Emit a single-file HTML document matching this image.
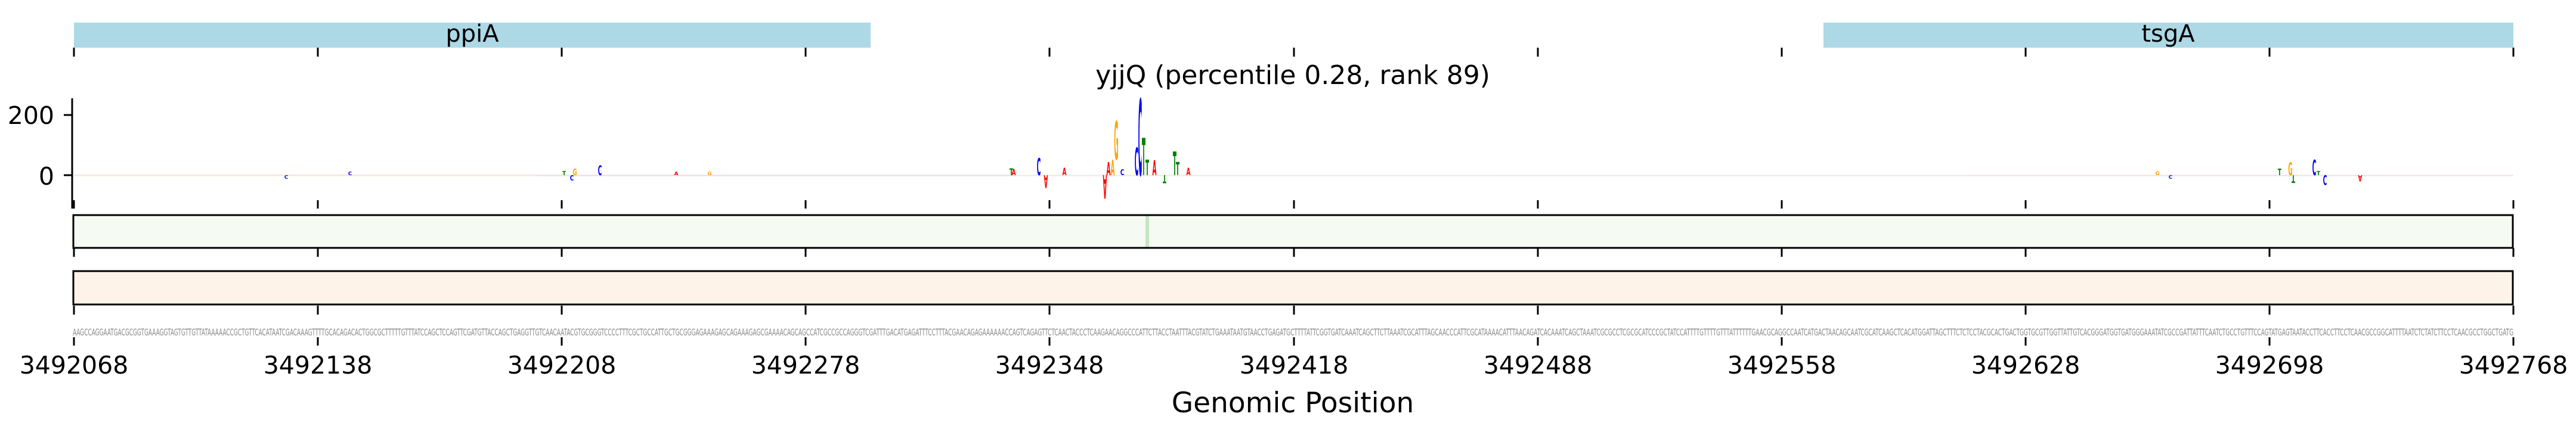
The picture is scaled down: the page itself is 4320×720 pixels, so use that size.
<!DOCTYPE html>
<html><head><meta charset="utf-8"><style>
html,body{margin:0;padding:0;background:#fff;}
svg{display:block;}
text{font-family:"DejaVu Sans","Liberation Sans",sans-serif;}
</style></head><body>
<svg width="4320" height="720" viewBox="0 0 4320 720" xmlns="http://www.w3.org/2000/svg">
<rect x="124" y="38" width="1336" height="42" fill="#add8e6"/>
<rect x="3058" y="38" width="1157" height="42" fill="#add8e6"/>
<text x="792" y="70" font-size="40" text-anchor="middle">ppiA</text>
<text x="3636" y="70" font-size="40" text-anchor="middle">tsgA</text>
<g stroke="#000" stroke-width="3">
<path d="M124 80v15M533 80v15M942 80v15M1351 80v15M1760 80v15M2170 80v15M2579 80v15M2988 80v15M3397 80v15M3806 80v15M4215 80v15"/>
<path d="M124 336v14M533 336v14M942 336v14M1351 336v14M1760 336v14M2170 336v14M2579 336v14M2988 336v14M3397 336v14M3806 336v14M4215 336v14"/>
<path d="M124 416v15M533 416v15M942 416v15M1351 416v15M1760 416v15M2170 416v15M2579 416v15M2988 416v15M3397 416v15M3806 416v15M4215 416v15"/>
<path d="M124 513v15M533 513v15M942 513v15M1351 513v15M1760 513v15M2170 513v15M2579 513v15M2988 513v15M3397 513v15M3806 513v15M4215 513v15"/>
<path d="M124 566v14M533 566v14M942 566v14M1351 566v14M1760 566v14M2170 566v14M2579 566v14M2988 566v14M3397 566v14M3806 566v14M4215 566v14"/>
<path d="M121 165V350M107 193h14M107 294h14"/>
</g>
<text x="91" y="208" font-size="41" text-anchor="end">200</text>
<text x="91" y="310" font-size="41" text-anchor="end">0</text>
<text x="2168" y="141" font-size="44" text-anchor="middle">yjjQ (percentile 0.28, rank 89)</text>
<g stroke-width="1.5" opacity="0.25">
<line x1="124" y1="294" x2="900" y2="294" stroke="#f4a"/>
<line x1="124" y1="295" x2="900" y2="295" stroke="#fb4"/>
<line x1="900" y1="294" x2="1700" y2="294" stroke="#e77"/>
<line x1="900" y1="295" x2="1700" y2="295" stroke="#88f"/>
<line x1="1700" y1="294" x2="2500" y2="294" stroke="#8c8"/>
<line x1="1700" y1="295" x2="2500" y2="295" stroke="#f99"/>
<line x1="2500" y1="294" x2="3300" y2="294" stroke="#fb6"/>
<line x1="2500" y1="295" x2="3300" y2="295" stroke="#99f"/>
<line x1="3300" y1="294" x2="4215" y2="294" stroke="#f88"/>
<line x1="3300" y1="295" x2="4215" y2="295" stroke="#8af"/>
</g>
<g font-size="10" text-anchor="middle" font-weight="bold" style="font-family:'Liberation Sans',sans-serif">
<text transform="translate(1912,294) scale(0.9,17.6)" fill="#0000ff">C</text>
<text transform="translate(1906,294) scale(0.9,6.4)" fill="#0000ff">C</text>
<text transform="translate(1872,268) scale(0.9,8.8)" fill="#ffa500">G</text>
<text transform="translate(1866,294) scale(0.9,3.6)" fill="#ffa500">A</text>
<text transform="translate(1859,294) scale(0.9,3.0)" fill="#ff0000">A</text>
<text transform="translate(1853,294) scale(0.9,-5.4)" fill="#ff0000">A</text>
<text transform="translate(1918,294) scale(0.9,8.6)" fill="#008000">T</text>
<text transform="translate(1924,294) scale(0.9,3.6)" fill="#008000">T</text>
<text transform="translate(1936,294) scale(0.9,3.5)" fill="#ff0000">A</text>
<text transform="translate(1970,294) scale(0.9,5.4)" fill="#008000">T</text>
<text transform="translate(1975,294) scale(0.9,3.0)" fill="#008000">T</text>
<text transform="translate(1953,294) scale(0.9,-1.9)" fill="#008000">T</text>
<text transform="translate(1993,294) scale(0.9,1.7)" fill="#ff0000">A</text>
<text transform="translate(1742,294) scale(0.9,3.9)" fill="#0000ff">C</text>
<text transform="translate(1754,294) scale(0.9,-2.9)" fill="#ff0000">A</text>
<text transform="translate(1785,294) scale(0.9,1.7)" fill="#ff0000">A</text>
<text transform="translate(1696,294) scale(0.9,1.6)" fill="#008000">T</text>
<text transform="translate(1700,294) scale(0.9,1.4)" fill="#ff0000">A</text>
<text transform="translate(1882,294) scale(0.9,1.3)" fill="#0000ff">C</text>
<text transform="translate(3841,294) scale(0.9,2.9)" fill="#ffa500">G</text>
<text transform="translate(3823,294) scale(0.9,1.5)" fill="#008000">T</text>
<text transform="translate(3846,294) scale(0.9,-1.8)" fill="#008000">T</text>
<text transform="translate(3881,294) scale(0.9,3.6)" fill="#0000ff">C</text>
<text transform="translate(3899,294) scale(0.9,-2.2)" fill="#0000ff">C</text>
<text transform="translate(3958,294) scale(0.9,-1.4)" fill="#ff0000">A</text>
<text transform="translate(3888,294) scale(0.9,1.0)" fill="#008000">T</text>
<text transform="translate(1006,294) scale(0.9,2.2)" fill="#0000ff">C</text>
<text transform="translate(959,294) scale(0.9,-1.2)" fill="#0000ff">C</text>
<text transform="translate(964,294) scale(0.9,1.5)" fill="#ffa500">G</text>
<text transform="translate(946,294) scale(0.9,1.0)" fill="#008000">T</text>
<text transform="translate(1134,294) scale(0.9,0.8)" fill="#ff0000">A</text>
<text transform="translate(1190,294) scale(0.9,0.8)" fill="#ffa500">G</text>
<text transform="translate(587,294) scale(0.9,0.8)" fill="#0000ff">C</text>
<text transform="translate(480,294) scale(0.9,-0.8)" fill="#0000ff">C</text>
<text transform="translate(3618,294) scale(0.9,0.9)" fill="#ffa500">G</text>
<text transform="translate(3640,294) scale(0.9,-0.8)" fill="#0000ff">C</text>
</g>
<rect x="123" y="361" width="4091" height="55" fill="#f5faf2" stroke="#000" stroke-width="3"/>
<rect x="1921" y="362.5" width="6" height="52" fill="#c5e6c0"/>
<rect x="123" y="455" width="4091" height="56" fill="#fef3e8" stroke="#000" stroke-width="3"/>
<text x="122" y="563" font-size="16" fill="#888" textLength="4093" lengthAdjust="spacingAndGlyphs">AAGCCAGGAATGACGCGGTGAAAGGTAGTGTTGTTATAAAAACCGCTGTTCACATAATCGACAAAGTTTTGCACAGACACTGGCGCTTTTTGTTTATCCAGCTCCAGTTCGATGTTACCAGCTGAGGTTGTCAACAATACGTGCGGGTCCCCTTTCGCTGCCATTGCTGCGGGAGAAAGAGCAGAAAGAGCGAAAACAGCAGCCATCGCCGCCAGGGTCGATTTGACATGAGATTTCCTTTACGAACAGAGAAAAAACCAGTCAGAGTTCTCAACTACCCTCAAGAACAGGCCCATTCTTACCTAATTTACGTATCTGAAATAATGTAACCTGAGATGCTTTTATTCGGTGATCAAATCAGCTTCTTAAATCGCATTTAGCAACCCATTCGCATAAAACATTTAACAGATCACAAATCAGCTAAATCGCGCCTCGCGCATCCCGCTATCCATTTTGTTTTGTTTATTTTTTGAACGCAGGCCAATCATGACTAACAGCAATCGCATCAAGCTCACATGGATTAGCTTTCTCTCCTACGCACTGACTGGTGCGTTGGTTATTGTCACGGGATGGTGATGGGAAATATCGCCGATTATTTCAATCTGCCTGTTTCCAGTATGAGTAATACCTTCACCTTCCTCAACGCCGGCATTTTAATCTCTATCTTCCTCAACGCCTGGCTGATG</text>
<g font-size="41" text-anchor="middle">
<text x="124" y="627">3492068</text>
<text x="533" y="627">3492138</text>
<text x="942" y="627">3492208</text>
<text x="1351" y="627">3492278</text>
<text x="1760" y="627">3492348</text>
<text x="2170" y="627">3492418</text>
<text x="2579" y="627">3492488</text>
<text x="2988" y="627">3492558</text>
<text x="3397" y="627">3492628</text>
<text x="3806" y="627">3492698</text>
<text x="4215" y="627">3492768</text>
</g>
<text x="2168" y="692" font-size="47" text-anchor="middle">Genomic Position</text>
</svg>
</body></html>
